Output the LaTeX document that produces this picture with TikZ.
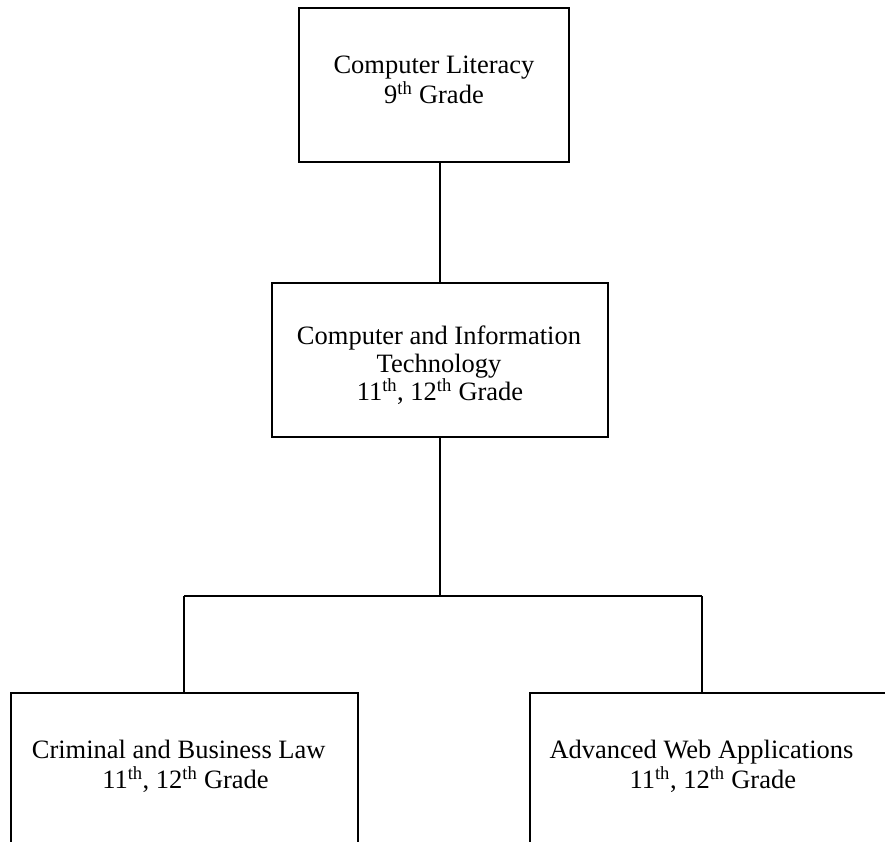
\documentclass[tikz,border=0pt]{standalone}
\usepackage{fontspec}
\setmainfont{Liberation Serif}
\begin{document}
\begin{tikzpicture}[x=1pt,y=-1pt,
  box/.style={draw=black,line width=1.8pt,rectangle,inner sep=0pt,outer sep=0pt},
  conn/.style={draw=black,line width=1.8pt},
  lbl/.style={anchor=base,inner sep=0pt,font=\fontsize{26.5}{29}\selectfont}]
\useasboundingbox (0,0) rectangle (885,842);
\clip (0,0) rectangle (885,842);
% boxes
\node[box,minimum width=270.6pt,minimum height=154pt] (top) at (434,84.7) {};
\node[box,minimum width=336.6pt,minimum height=154pt] (mid) at (440,360.3) {};
\node[box,minimum width=347.3pt,minimum height=177.3pt] (left) at (184.65,781.35) {};
\node[box,minimum width=370pt,minimum height=177.3pt] (right) at (715,781.35) {};
% texts
\node[lbl] (t1) at (434,74) {Computer Literacy};
\node[lbl] (t2) at (434,104) {9\textsuperscript{th} Grade};
\node[lbl] (m1) at (439,344) {Computer and Information};
\node[lbl] (m2) at (439,372) {Technology};
\node[lbl] (m3) at (440,400.5) {11\textsuperscript{th}, 12\textsuperscript{th} Grade};
\node[lbl] (l1) at (178.7,758.3) {Criminal and Business Law};
\node[lbl] (l2) at (185.5,788.3) {11\textsuperscript{th}, 12\textsuperscript{th} Grade};
\node[lbl] (r1) at (701.5,758.3) {Advanced Web Applications};
\node[lbl] (r2) at (712.8,788.3) {11\textsuperscript{th}, 12\textsuperscript{th} Grade};
% connectors
\coordinate (bm) at (440,596);
\coordinate (bl) at (184,596);
\coordinate (br) at (702,596);
\draw[conn] (mid.north |- top.south) -- (mid.north);
\draw[conn] (mid.south) -- (bm);
\draw[conn] (bl) -- (br);
\draw[conn] (bl) -- (bl |- left.north);
\draw[conn] (br) -- (br |- right.north);
\end{tikzpicture}
\end{document}
